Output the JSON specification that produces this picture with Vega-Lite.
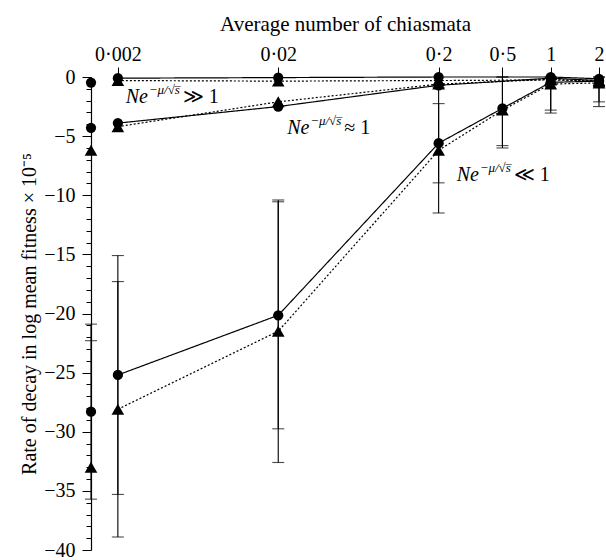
{
  "$schema": "https://vega.github.io/schema/vega-lite/v6.json",
  "width": 508,
  "height": 473,
  "autosize": "none",
  "padding": {"left": 91, "top": 77, "right": 7, "bottom": 10},
  "background": "white",
  "config": {
    "view": {"stroke": null},
    "font": "Times New Roman, Liberation Serif, serif",
    "axis": {
      "grid": false,
      "labelFont": "Times New Roman, Liberation Serif, serif",
      "titleFont": "Times New Roman, Liberation Serif, serif",
      "labelColor": "#000",
      "titleColor": "#000",
      "tickColor": "#000",
      "domainColor": "#000",
      "titleFontWeight": "normal",
      "labelFlush": false,
      "labelOverlap": false
    }
  },
  "resolve": {"axis": {"y": "independent"}},
  "datasets": {
    "main": [
      {"series": "hi-c", "shape": "circle", "x": 0.002, "y": -0.1},
      {"series": "hi-c", "shape": "circle", "x": 0.02, "y": -0.05},
      {"series": "hi-c", "shape": "circle", "x": 0.2, "y": 0.0},
      {"series": "hi-c", "shape": "circle", "x": 1, "y": 0.0},
      {"series": "hi-c", "shape": "circle", "x": 2, "y": -0.15},
      {"series": "hi-t", "shape": "triangle", "x": 0.002, "y": -0.3},
      {"series": "hi-t", "shape": "triangle", "x": 0.02, "y": -0.35},
      {"series": "hi-t", "shape": "triangle", "x": 0.2, "y": -0.3},
      {"series": "hi-t", "shape": "triangle", "x": 1, "y": -0.25},
      {"series": "hi-t", "shape": "triangle", "x": 2, "y": -0.3},
      {"series": "mid-c", "shape": "circle", "x": 0.002, "y": -3.9},
      {"series": "mid-c", "shape": "circle", "x": 0.02, "y": -2.5},
      {"series": "mid-c", "shape": "circle", "x": 0.2, "y": -0.7},
      {"series": "mid-c", "shape": "circle", "x": 1, "y": -0.1},
      {"series": "mid-c", "shape": "circle", "x": 2, "y": -0.3},
      {"series": "mid-t", "shape": "triangle", "x": 0.002, "y": -4.2},
      {"series": "mid-t", "shape": "triangle", "x": 0.02, "y": -2.1},
      {"series": "mid-t", "shape": "triangle", "x": 0.2, "y": -0.6},
      {"series": "mid-t", "shape": "triangle", "x": 1, "y": -0.2},
      {"series": "mid-t", "shape": "triangle", "x": 2, "y": -0.4},
      {"series": "low-c", "shape": "circle", "x": 0.002, "y": -25.2, "lo": -35.3, "hi": -15.1},
      {"series": "low-c", "shape": "circle", "x": 0.02, "y": -20.15, "lo": -29.75, "hi": -10.55},
      {"series": "low-c", "shape": "circle", "x": 0.2, "y": -5.6, "lo": -8.95, "hi": -2.25},
      {"series": "low-c", "shape": "circle", "x": 0.5, "y": -2.65, "lo": -5.8, "hi": 0.5},
      {"series": "low-c", "shape": "circle", "x": 1, "y": -0.45, "lo": -2.8, "hi": 1.9},
      {"series": "low-c", "shape": "circle", "x": 2, "y": -0.35, "lo": -2.1, "hi": 1.4},
      {"series": "low-t", "shape": "triangle", "x": 0.002, "y": -28.1, "lo": -38.9, "hi": -17.3},
      {"series": "low-t", "shape": "triangle", "x": 0.02, "y": -21.5, "lo": -32.6, "hi": -10.4},
      {"series": "low-t", "shape": "triangle", "x": 0.2, "y": -6.2, "lo": -11.5, "hi": -0.9},
      {"series": "low-t", "shape": "triangle", "x": 0.5, "y": -2.8, "lo": -6.0, "hi": 0.4},
      {"series": "low-t", "shape": "triangle", "x": 1, "y": -0.6, "lo": -3.05, "hi": 1.9},
      {"series": "low-t", "shape": "triangle", "x": 2, "y": -0.5, "lo": -2.5, "hi": 1.5},
      {"series": "axis", "shape": "circle", "x": 0.00136, "y": -0.47},
      {"series": "axis", "shape": "circle", "x": 0.00136, "y": -4.3},
      {"series": "axis", "shape": "triangle", "x": 0.00136, "y": -6.2},
      {"series": "axis", "shape": "circle", "x": 0.00136, "y": -28.3, "lo": -35.7, "hi": -20.9},
      {"series": "axis", "shape": "triangle", "x": 0.00136, "y": -33.0, "hi": -22.3}
    ],
    "notes": [
      {"x": 0.00224, "y": -2.2, "rel": "≫ 1"},
      {"x": 0.02275, "y": -4.8, "rel": "≈ 1"},
      {"x": 0.259, "y": -8.76, "rel": "≪ 1"}
    ]
  },
  "layer": [
    {
      "data": {"name": "main"},
      "mark": {"type": "point", "filled": true, "opacity": 1, "color": "#000"},
      "encoding": {
        "x": {
          "field": "x", "type": "quantitative",
          "scale": {"type": "log", "domain": [0.00136, 2], "nice": false},
          "axis": {
            "orient": "top",
            "values": [0.002, 0.02, 0.2, 0.5, 1, 2],
            "labelExpr": "replace(toString(datum.value), '.', '·')",
            "domain": false,
            "tickSize": 10,
            "tickWidth": 1,
            "labelPadding": 3,
            "labelFontSize": 20,
            "title": "Average number of chiasmata",
            "titleFontSize": 21,
            "titlePadding": 10
          }
        },
        "y": {
          "field": "y", "type": "quantitative",
          "scale": {"domain": [-40, 0], "nice": false, "zero": false, "clamp": true},
          "axis": {
            "orient": "left",
            "values": [-40, -35, -30, -25, -20, -15, -10, -5, 0],
            "labelExpr": "replace(toString(datum.value), '-', '−')",
            "labelOverlap": false,
            "tickSize": 9,
            "tickWidth": 1,
            "domainWidth": 1.2,
            "labelPadding": 7,
            "labelFontSize": 20,
            "title": "Rate of decay in log mean fitness × 10⁻⁵",
            "titleFontSize": 20
          }
        },
        "shape": {
          "field": "shape", "type": "nominal",
          "scale": {"domain": ["circle", "triangle"], "range": ["circle", "triangle-up"]},
          "legend": null
        },
        "size": {
          "field": "shape", "type": "nominal",
          "scale": {"domain": ["circle", "triangle"], "range": [105, 160]},
          "legend": null
        }
      }
    },
    {
      "data": {"name": "main"},
      "mark": {"type": "rule", "color": "#000", "strokeWidth": 1.1},
      "encoding": {
        "x": {"field": "x", "type": "quantitative"},
        "y": {
          "field": "lo", "type": "quantitative",
          "axis": {
            "orient": "left",
            "values": [-39,-38,-37,-36,-34,-33,-32,-31,-29,-28,-27,-26,-24,-23,-22,-21,-19,-18,-17,-16,-14,-13,-12,-11,-9,-8,-7,-6,-4,-3,-2,-1],
            "labels": false,
            "domain": false,
            "tickSize": 5,
            "tickWidth": 1,
            "title": null
          }
        },
        "y2": {"field": "hi"}
      }
    },
    {
      "data": {"name": "main"},
      "mark": {"type": "tick", "orient": "horizontal", "color": "#000", "size": 12, "thickness": 1.1},
      "encoding": {
        "x": {"field": "x", "type": "quantitative"},
        "y": {"field": "lo", "type": "quantitative", "axis": null}
      }
    },
    {
      "data": {"name": "main"},
      "mark": {"type": "tick", "orient": "horizontal", "color": "#000", "size": 12, "thickness": 1.1},
      "encoding": {
        "x": {"field": "x", "type": "quantitative"},
        "y": {"field": "hi", "type": "quantitative", "axis": null}
      }
    },
    {
      "data": {"name": "main"},
      "transform": [{"filter": "datum.series !== 'axis'"}],
      "mark": {"type": "line", "color": "#000", "strokeWidth": 1.2},
      "encoding": {
        "x": {"field": "x", "type": "quantitative"},
        "y": {"field": "y", "type": "quantitative", "axis": null},
        "detail": {"field": "series"},
        "strokeDash": {
          "field": "shape", "type": "nominal",
          "scale": {"domain": ["circle", "triangle"], "range": [[1, 0], [2, 2]]},
          "legend": null
        }
      }
    },
    {
      "data": {"name": "notes"},
      "mark": {"type": "text", "font": "Times New Roman, Liberation Serif, serif", "fontStyle": "italic", "fontSize": 20, "align": "left", "baseline": "alphabetic", "color": "#000"},
      "encoding": {
        "x": {"field": "x", "type": "quantitative"},
        "y": {"field": "y", "type": "quantitative", "axis": null},
        "text": {"value": "Ne"}
      }
    },
    {
      "data": {"name": "notes"},
      "mark": {"type": "text", "font": "Times New Roman, Liberation Serif, serif", "fontStyle": "italic", "fontSize": 13, "align": "left", "baseline": "alphabetic", "dx": 23, "dy": -9, "color": "#000"},
      "encoding": {
        "x": {"field": "x", "type": "quantitative"},
        "y": {"field": "y", "type": "quantitative", "axis": null},
        "text": {"value": "−μ/√s̅"}
      }
    },
    {
      "data": {"name": "notes"},
      "mark": {"type": "text", "font": "Times New Roman, Liberation Serif, serif", "fontSize": 20, "align": "left", "baseline": "alphabetic", "dx": 57, "color": "#000"},
      "encoding": {
        "x": {"field": "x", "type": "quantitative"},
        "y": {"field": "y", "type": "quantitative", "axis": null},
        "text": {"field": "rel"}
      }
    }
  ]
}
